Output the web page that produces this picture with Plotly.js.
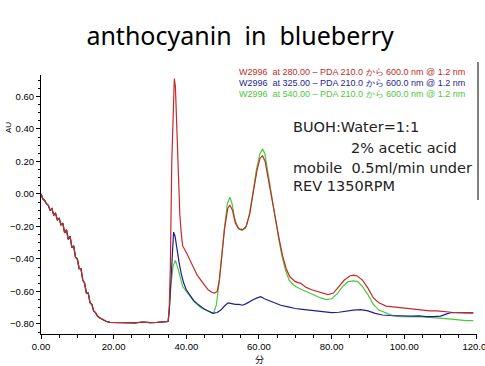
<!DOCTYPE html>
<html>
<head>
<meta charset="utf-8">
<script src="https://cdn.plot.ly/plotly-3.0.1.min.js"></script>
<style>html,body{margin:0;padding:0;background:#fff;}#chart{width:485px;height:366px;}</style>
</head>
<body>
<div id="chart"></div>
<script>
// ---- data (minutes, AU) ----
const t_common = [0,0.5,1,1.5,2,2.5,3,3.5,4,4.5,5,5.5,6,6.5,7,7.5,8,8.5,9,9.5,10,10.5,11,11.5,12,12.5,13,13.5,14,14.5,15,15.5,16,17,18,19,20,22,24,26,28,30,32,34,35];
const v_common = [0.00,-0.03,-0.04,-0.06,-0.07,-0.10,-0.09,-0.13,-0.12,-0.16,-0.15,-0.19,-0.18,-0.24,-0.22,-0.28,-0.26,-0.33,-0.32,-0.39,-0.40,-0.46,-0.46,-0.53,-0.55,-0.61,-0.61,-0.67,-0.68,-0.72,-0.73,-0.75,-0.76,-0.775,-0.785,-0.79,-0.79,-0.792,-0.79,-0.793,-0.788,-0.792,-0.79,-0.789,-0.785];

const t_red = [35.3,35.6,36.0,36.4,36.7,37.0,37.4,37.8,38.2,38.6,39.0,40.0,41.0,42.0,43.0,44.0,45.0,46.0,47.0,47.8,48.5,49.1,50.0,50.5,51.4,52.0,52.7,53.5,54.5,55.5,56.5,57.5,58.5,59.5,60.3,61.0,61.7,62.5,63.5,64.5,65.5,66.5,67.5,68.5,70,71.5,73,74.5,76,77.5,79,80.5,82,83.5,85,86,87,88.5,90,91.5,93,95,97,99,101,103,105,107,109,111,113,115,117,119];
const v_red = [-0.70,-0.45,0.20,0.60,0.71,0.66,0.35,0.05,-0.12,-0.24,-0.32,-0.36,-0.41,-0.46,-0.50,-0.53,-0.56,-0.59,-0.605,-0.61,-0.60,-0.53,-0.33,-0.22,-0.09,-0.068,-0.10,-0.18,-0.215,-0.22,-0.20,-0.12,0.02,0.15,0.22,0.235,0.20,0.10,-0.03,-0.16,-0.27,-0.38,-0.46,-0.51,-0.54,-0.55,-0.575,-0.59,-0.60,-0.61,-0.62,-0.61,-0.57,-0.53,-0.505,-0.50,-0.505,-0.53,-0.58,-0.64,-0.67,-0.69,-0.695,-0.70,-0.705,-0.71,-0.715,-0.72,-0.72,-0.725,-0.728,-0.73,-0.73,-0.732];

const t_blue = [35.3,35.7,36.1,36.5,36.9,37.4,38.0,38.6,39.3,40,41,42,43,44,45,46,47.3,48.5,49.5,50.5,51.5,52.5,53.5,54.5,55.5,56.5,57.5,58.5,59.5,60.5,61.5,62.5,63.5,64.5,66,68,70,72,74,76,78,80,82,84,86,88,90,92,94,96,98,100,102,104,106,108,110,111.5,113,115,117,119];
const v_blue = [-0.72,-0.55,-0.33,-0.235,-0.26,-0.34,-0.42,-0.49,-0.55,-0.59,-0.625,-0.655,-0.675,-0.695,-0.71,-0.72,-0.735,-0.73,-0.715,-0.69,-0.67,-0.675,-0.68,-0.68,-0.685,-0.675,-0.66,-0.65,-0.64,-0.632,-0.645,-0.655,-0.665,-0.675,-0.685,-0.695,-0.705,-0.71,-0.715,-0.72,-0.725,-0.73,-0.728,-0.72,-0.715,-0.712,-0.72,-0.735,-0.745,-0.748,-0.75,-0.75,-0.752,-0.75,-0.755,-0.755,-0.752,-0.74,-0.73,-0.73,-0.73,-0.732];

const t_green = [35.3,35.8,36.4,37.0,37.6,38.3,39,40,41,42,43,44,45,46,47,47.6,48.3,49.1,49.8,50.5,51.3,52.0,52.6,53.3,54.2,55.3,56.3,57.3,58.3,59.3,60.3,61.0,61.6,62.4,63.3,64.3,65.3,66.3,67.3,68.3,69.5,71,72.5,74,75.5,77,78.5,80,81.5,83,84.5,86,87.2,88.5,90,91.5,93,95,97,99,101,103,105,107,109,111,113,115,117,119];
const v_green = [-0.72,-0.55,-0.44,-0.41,-0.45,-0.52,-0.57,-0.60,-0.63,-0.66,-0.68,-0.70,-0.71,-0.72,-0.73,-0.73,-0.68,-0.53,-0.36,-0.21,-0.06,-0.02,-0.06,-0.15,-0.21,-0.225,-0.21,-0.13,0.00,0.15,0.25,0.275,0.25,0.14,0.00,-0.14,-0.26,-0.38,-0.47,-0.53,-0.56,-0.58,-0.595,-0.61,-0.625,-0.64,-0.65,-0.645,-0.615,-0.57,-0.54,-0.535,-0.54,-0.57,-0.62,-0.68,-0.715,-0.735,-0.75,-0.755,-0.755,-0.755,-0.757,-0.76,-0.762,-0.765,-0.77,-0.775,-0.78,-0.78];

const legendLabels = [
  "W2996  at 280.00 – PDA 210.0 から 600.0 nm @ 1.2 nm",
  "W2996  at 325.00 – PDA 210.0 から 600.0 nm @ 1.2 nm",
  "W2996  at 540.00 – PDA 210.0 から 600.0 nm @ 1.2 nm"
];
const noteLines = ["BUOH:Water=1:1", "2% acetic acid", "mobile  0.5ml/min under", "REV 1350RPM"];
const titleText = "anthocyanin  in  blueberry";
const xTitle = "分";
const yTitle = "AU";

// ---- styling ----
const RED = "#c42a26", BLUE = "#1e1e96", GREEN = "#4cc83a";
const L = 41, R = 8, T = 75, B = 32, W = 485, H = 366;
const pw = W - L - R, ph = H - T - B;
const px = x => (x - L) / pw;          // pixel -> paper x
const py = y => (H - B - y) / ph;       // pixel -> paper y

function tr(tt, vv, color) {
  return {x: t_common.concat(tt), y: v_common.concat(vv), type: "scatter", mode: "lines",
          line: {color: color, width: 1.2}, hoverinfo: "skip", showlegend: false};
}
const data = [tr(t_green, v_green, GREEN), tr(t_blue, v_blue, BLUE), tr(t_red, v_red, RED)];

const tickFont = {family: "Liberation Sans, Arial, sans-serif", size: 9.5, color: "#000"};
const noteFont = {family: "DejaVu Sans, sans-serif", size: 14.5, color: "#222"};
const legFont = c => ({family: "Liberation Sans, Arial, sans-serif", size: 9, color: c});

const annotations = [
  {text: legendLabels[0], x: px(237), y: py(72.5), font: legFont(RED)},
  {text: legendLabels[1], x: px(237), y: py(83), font: legFont(BLUE)},
  {text: legendLabels[2], x: px(237), y: py(93.5), font: legFont(GREEN)},
  {text: noteLines[0], x: px(291), y: py(127), font: noteFont},
  {text: noteLines[1], x: px(349), y: py(147.5), font: noteFont},
  {text: noteLines[2], x: px(291), y: py(168), font: noteFont},
  {text: noteLines[3], x: px(291), y: py(186), font: noteFont},
].map(a => Object.assign({xref: "paper", yref: "paper", xanchor: "left", yanchor: "middle", showarrow: false}, a));
annotations.push({text: yTitle, xref: "paper", yref: "paper", x: px(8), y: py(128), xanchor: "center", yanchor: "middle",
  textangle: -90, showarrow: false, font: {family: "Liberation Sans, Arial, sans-serif", size: 8, color: "#000"}});
annotations.push({text: xTitle, xref: "paper", yref: "paper", x: px(259.5), y: py(359), xanchor: "center", yanchor: "middle",
  showarrow: false, font: {family: "Noto Sans CJK JP, sans-serif", size: 9, color: "#000"}});

const axisCommon = {
  showline: true, linecolor: "#000", linewidth: 1, showgrid: false, zeroline: false,
  ticks: "outside", ticklen: 4, tickwidth: 1, tickcolor: "#000", tickfont: tickFont, tickformat: ".2f",
  ticklabeloverflow: "allow", fixedrange: true
};

const layout = {
  width: W, height: H,
  margin: {l: L, r: R, t: T, b: B, pad: 0},
  paper_bgcolor: "#fff", plot_bgcolor: "#fff",
  title: {text: titleText, x: 0.495, xref: "container", y: 1 - 36 / H, yref: "container", xanchor: "center", yanchor: "middle",
          font: {family: "Noto Sans, sans-serif", size: 25, color: "#000"}},
  xaxis: Object.assign({}, axisCommon, {range: [0, 120.02], tick0: 0, dtick: 20,
          minor: {dtick: 5, ticks: "outside", ticklen: 3, tickcolor: "#000", showgrid: false}}),
  yaxis: Object.assign({}, axisCommon, {range: [-0.862, 0.732], tick0: 0, dtick: 0.2,
          minor: {dtick: 0.05, ticks: "outside", ticklen: 2, tickcolor: "#000", showgrid: false}}),
  annotations: annotations,
  shapes: [{type: "line", xref: "paper", yref: "paper", x0: px(478), x1: px(478), y0: py(62), y1: py(200),
            line: {color: "#000", width: 1}}],
  hovermode: false
};

Plotly.newPlot("chart", data, layout, {staticPlot: true, displayModeBar: false});
</script>
</body>
</html>
